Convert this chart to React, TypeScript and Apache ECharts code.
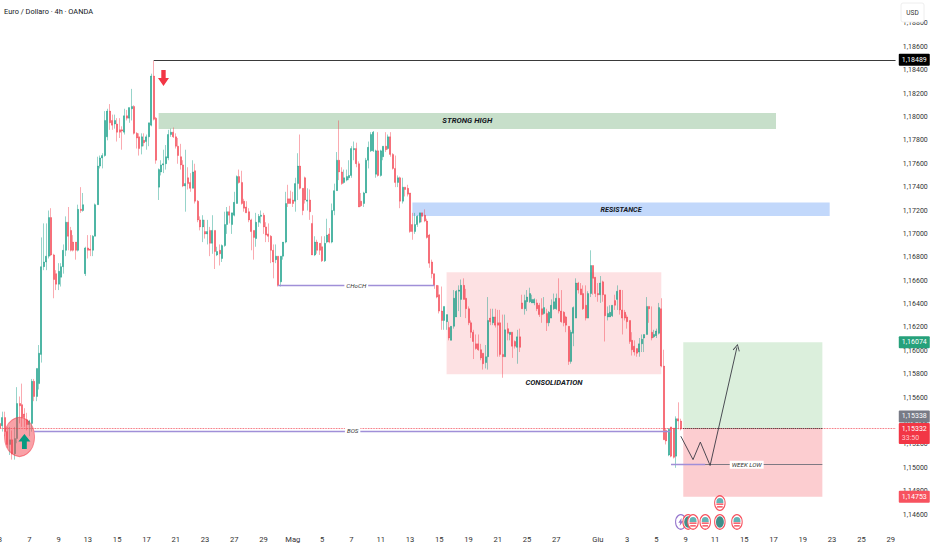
import React, { useEffect, useRef } from "react";
import * as echarts from "echarts";

// Candles: [open, close, low, high] in pips (price x 10000)
const aprilCandles = [
[11538,11534,11532,11540],[11536,11543,11531,11548],[11543,11531,11527,11548],[11531,11520,11517,11535],[11520,11524,11511,11535],[11524,11512,11507,11532],[11512,11525,11507,11535],[11525,11555,11521,11569],[11555,11553,11538,11561],[11554,11543,11535,11572],
[11546,11543,11535,11551],[11541,11537,11532,11547],[11537,11540,11527,11541],[11538,11574,11531,11576],[11574,11561,11557,11576],[11561,11585,11557,11585],[11572,11598,11567,11605],[11597,11672,11590,11697],[11672,11676,11669,11709],[11676,11681,11669,11709],
[11681,11714,11679,11720],[11714,11682,11681,11722],[11682,11661,11645,11683],[11666,11657,11652,11669],[11657,11668,11652,11675],[11663,11672,11655,11675],[11672,11686,11666,11691],[11686,11710,11681,11715],[11710,11698,11686,11723],[11703,11686,11685,11706],
[11693,11686,11685,11699],[11693,11686,11678,11693],[11686,11721,11685,11725],[11721,11720,11718,11740],[11720,11725,11719,11735],[11666,11688,11664,11689],[11688,11686,11679,11699],[11687,11686,11681,11699],[11686,11698,11681,11699],[11698,11725,11698,11726],
[11725,11758,11725,11766],[11758,11765,11756,11767],[11765,11767,11756,11769],[11767,11797,11766,11805],[11783,11805,11780,11807],[11805,11795,11789,11811],[11797,11793,11789,11802],[11794,11797,11790,11802],[11794,11787,11779,11799],[11789,11787,11782,11799],
[11789,11788,11772,11792],[11787,11801,11785,11807],[11801,11799,11797,11806],[11799,11808,11795,11808],[11807,11809,11797,11824],[11809,11786,11785,11810],[11786,11782,11773,11787],[11783,11773,11767,11786],[11775,11783,11768,11786],[11780,11778,11775,11786],
[11779,11783,11772,11785],[11783,11795,11775,11795],[11793,11835,11792,11837],[11835,11798,11797,11848],[11799,11763,11760,11800],[11740,11755,11729,11756],[11753,11759,11750,11763],[11759,11760,11752,11772],[11760,11766,11755,11776],[11765,11785,11763,11789],
[11785,11787,11783,11790],[11787,11783,11782,11791],[11783,11775,11773,11786],[11775,11767,11760,11782],[11766,11759,11755,11777],[11759,11741,11740,11763],[11741,11743,11719,11772],[11748,11743,11738,11757],[11744,11739,11736,11752],[11739,11753,11739,11763],
[11754,11728,11726,11760],[11728,11712,11710,11729],[11712,11706,11703,11715],[11706,11712,11693,11716],[11702,11700,11696,11712],[11700,11702,11691,11712],[11703,11692,11681,11706],[11692,11703,11683,11716],[11703,11685,11670,11703],[11682,11685,11681,11689],
[11686,11683,11673,11691],[11679,11690,11676,11691],[11690,11708,11689,11719],[11708,11719,11700,11723],[11719,11716,11709,11724],[11708,11718,11700,11718],[11716,11727,11715,11736],[11726,11749,11726,11750],[11749,11744,11743,11755],[11744,11726,11725,11754],
[11728,11722,11719,11730],[11723,11718,11718,11728],[11719,11712,11710,11722],[11712,11702,11686,11713],[11703,11697,11678,11703],[11696,11710,11689,11718],[11710,11715,11706,11717],[11715,11716,11709,11720],[11716,11706,11700,11718],[11706,11699,11693,11710],
[11700,11698,11693,11709],[11698,11686,11675,11699],[11686,11676,11662,11691],[11678,11681,11675,11691],[11681,11656,11655,11681],[11659,11681,11655,11681],[11681,11693,11678,11693],[11693,11726,11692,11736],[11730,11726,11723,11742],[11730,11726,11726,11737],
];
const mayCandles = [
[11729,11726,11723,11736],[11728,11743,11719,11748],[11743,11758,11729,11769],[11758,11739,11738,11785],[11739,11720,11716,11739],[11748,11729,11726,11749],[11728,11729,11720,11739],[11729,11719,11712,11738],[11709,11682,11682,11716],[11682,11693,11681,11698],
[11693,11686,11683,11695],[11692,11686,11682,11692],[11689,11677,11676,11698],[11677,11692,11676,11698],[11693,11699,11692,11713],[11700,11693,11692,11705],[11693,11720,11692,11726],[11720,11737,11716,11743],[11737,11763,11737,11770],[11763,11753,11746,11797],
[11753,11743,11742,11757],[11744,11748,11743,11755],[11746,11749,11745,11755],[11748,11750,11746,11763],[11750,11773,11748,11775],[11772,11773,11763,11779],[11773,11760,11757,11778],[11760,11723,11723,11762],[11728,11724,11723,11735],[11726,11735,11723,11736],
[11735,11763,11735,11765],[11763,11774,11756,11779],[11771,11785,11770,11787],[11771,11787,11770,11788],[11751,11771,11748,11772],[11771,11750,11749,11787],[11750,11771,11749,11772],[11766,11775,11763,11775],[11775,11772,11770,11787],[11773,11783,11772,11785],
[11783,11768,11766,11787],[11768,11756,11755,11769],[11756,11744,11740,11767],[11744,11748,11740,11750],[11748,11728,11722,11749],[11728,11740,11726,11748],[11740,11738,11732,11740],[11739,11734,11732,11742],[11735,11702,11701,11735],[11708,11702,11695,11718],
[11702,11708,11700,11718],[11708,11715,11706,11716],[11710,11718,11709,11718],[11718,11715,11710,11718],[11716,11711,11710,11721],[11711,11697,11696,11713],[11699,11675,11671,11700],[11676,11666,11662,11678],[11666,11656,11653,11666],[11656,11646,11645,11656],
[11648,11634,11632,11656],[11634,11626,11618,11655],[11626,11638,11618,11638],[11625,11631,11618,11631],[11620,11611,11609,11625],[11609,11621,11609,11621],[11621,11645,11619,11652],[11629,11651,11629,11652],[11651,11652,11634,11656],[11644,11656,11629,11661],
[11656,11644,11644,11662],[11645,11636,11628,11653],[11636,11624,11622,11638],[11624,11616,11611,11626],[11616,11608,11593,11618],[11606,11602,11601,11614],[11606,11601,11600,11614],[11601,11594,11592,11606],[11598,11589,11584,11598],[11590,11595,11585,11605],
[11595,11626,11584,11646],[11628,11625,11622,11636],[11624,11629,11622,11636],[11629,11622,11620,11636],[11624,11622,11595,11635],[11624,11597,11595,11635],[11597,11595,11577,11631],[11595,11618,11595,11631],[11619,11615,11609,11624],[11614,11616,11609,11616],
[11616,11604,11594,11616],[11608,11604,11602,11609],[11603,11612,11589,11618],[11612,11603,11599,11619],[11641,11636,11636,11648],[11636,11643,11631,11648],[11642,11646,11634,11652],[11642,11649,11641,11654],[11641,11644,11641,11648],[11641,11644,11639,11645],
[11641,11636,11634,11644],[11639,11631,11629,11641],[11636,11631,11624,11645],[11632,11637,11631,11646],[11632,11624,11617,11636],[11624,11633,11621,11634],[11628,11639,11628,11644],[11636,11642,11635,11649],[11636,11645,11635,11649],[11645,11634,11632,11662],
];
const juneCandles = [
[11634,11625,11624,11652],[11633,11624,11621,11634],[11629,11622,11616,11630],[11621,11591,11588,11621],[11591,11616,11589,11618],[11615,11637,11604,11638],[11628,11658,11628,11662],[11658,11652,11649,11659],[11653,11648,11648,11658],[11649,11636,11635,11656],
[11639,11628,11626,11656],[11628,11649,11628,11651],[11649,11673,11646,11686],[11673,11662,11648,11673],[11663,11649,11646,11663],[11649,11648,11642,11658],[11648,11658,11641,11664],[11659,11648,11642,11660],[11648,11630,11608,11648],[11629,11632,11626,11638],
[11629,11633,11629,11639],[11630,11639,11629,11639],[11643,11639,11635,11648],[11644,11651,11635,11656],[11652,11635,11631,11652],[11635,11628,11614,11652],[11633,11628,11626,11635],[11629,11625,11619,11631],[11626,11608,11606,11626],[11609,11601,11596,11616],
[11604,11599,11596,11609],[11602,11598,11595,11602],[11599,11606,11595,11611],[11606,11610,11599,11614],[11611,11614,11599,11614],[11614,11638,11614,11646],[11638,11636,11624,11638],[11616,11611,11609,11638],[11612,11614,11611,11618],[11613,11617,11611,11619],
[11615,11637,11614,11641],[11636,11587,11586,11645],[11587,11524,11524,11601],[11532,11523,11520,11534],[11511,11533,11510,11534],[11535,11510,11509,11535],[11534,11509,11508,11534],[11510,11542,11500,11544],[11542,11540,11533,11556],[11540,11533.2,11532,11542],
];
const candles = [...aprilCandles, ...mayCandles, ...juneCandles].map((r) => r.map((v) => v / 10000));

// Time axis: one slot per 4h bar, including the empty future
const slotCount = 368;
const tickSlots = [0, 12, 24, 36, 48, 60, 72, 84, 96, 108, 120, 132, 144, 156, 168, 180, 192, 204, 216, 228, 245, 257, 269, 281, 293, 305, 317, 329, 341, 353, 365];
const tickLabels = ["8", "7", "9", "13", "15", "17", "21", "23", "27", "29", "Mag", "5", "7", "11", "13", "15", "19", "21", "25", "27", "Giu", "3", "5", "9", "11", "15", "17", "19", "23", "25", "29"];

const priceMin = 1.144;
const priceMax = 1.19;
const priceStep = 0.002;

const highLevel = 1.18489;
const chochLevel = 1.16557;
const bosLevel = 1.15317;
const entryLevel = 1.15338;
const targetLevel = 1.16074;
const stopLevel = 1.14753;
const weekLowLevel = 1.15027;

// Projected path: slot, price
const pathSlots = [279, 284, 287, 291, 302];
const pathPrices = [1.1527, 1.1507, 1.1522, 1.1502, 1.1603];

const eventSlots = [279, 282, 284, 289, 295, 302];
const eventKinds = ["flash", "globe", "flag", "flag", "globe", "flag"];
const upperEventSlot = 295;

const FONT = "Roboto, sans-serif";
const priceText = (v: number) => v.toFixed(5).replace(".", ",");

const zone = (name: string, a: number, b: number, hi: number, lo: number, fill: string, label?: object) => [
  { name, xAxis: a, yAxis: hi, itemStyle: { color: fill }, label: label ?? { show: false } },
  { xAxis: b, yAxis: lo },
];
const zoneLabel = (position: string, fontSize: number, distance = 0) => ({
  show: true, position, distance, fontFamily: FONT, fontWeight: "bold", fontStyle: "italic", fontSize, color: "#131722",
});
const seg = (a: number, pa: number, b: number, pb: number, color: string, width = 1.2, type = "solid", label?: string, endSymbol = "none") => [
  {
    xAxis: a, yAxis: pa, symbol: "none",
    lineStyle: { color, width, type },
    label: label
      ? { show: true, position: "insideMiddle", distance: 0, formatter: label, backgroundColor: "#fff", padding: [1, 2], fontFamily: FONT, fontStyle: "italic", fontWeight: "normal", fontSize: 6.2, color: "#333" }
      : { show: false },
  },
  { xAxis: b, yAxis: pb, symbol: endSymbol, symbolSize: 7 },
];
const hiddenLine = { color: "rgba(0,0,0,0)", width: 0, opacity: 1 };
const tag = (value: number, text: string, bg: string) => ({
  yAxis: value, symbol: "none",
  lineStyle: hiddenLine,
  label: {
    show: true, position: "end", distance: 2, formatter: text, backgroundColor: bg, borderRadius: 1,
    padding: [2, 3, 2, 3], fontFamily: FONT, fontSize: 7, color: "#fff", lineHeight: 8,
  },
});

const ARROW_DOWN = "path://M3 0H7V5H10L5 10L0 5H3Z";
const ARROW_UP = "path://M5 0L10 5H7V10H3V5H0Z";
const OPEN_HEAD = "path://M0 10L5 0L10 10L9 10.6L5 2.6L1 10.6Z";
const DOME = "path://M0 5A5 5 0 0 1 10 5V6H0Z";
const STRIPES = "path://M0 0H10V1.5H0ZM1 3H9V4.5H1Z";

const eventPrice = 1.14537;
const upperEventPrice = 1.14699;
const eventMarks = (slot: number, price: number, kind: string) => {
  const common = { coord: [slot, price], label: { show: false } };
  const ring = {
    ...common, symbol: "circle", symbolSize: [10.5, 14.5],
    itemStyle: { color: "#fff", borderColor: kind === "flash" ? "#9575cd" : "#f7525f", borderWidth: 1.2 },
  };
  if (kind === "globe") {
    return [ring, { ...common, symbol: "circle", symbolSize: [8, 11.5], itemStyle: { color: "#3f8f8a" } }];
  }
  if (kind === "flag") {
    return [
      ring,
      { ...common, symbol: DOME, symbolSize: [7, 5], symbolOffset: [0, -2.5], itemStyle: { color: "#62b3b5" } },
      { ...common, symbol: STRIPES, symbolSize: [7, 4], symbolOffset: [0, 2.5], itemStyle: { color: "#f23645" } },
    ];
  }
  return [ring, { ...common, symbol: "path://M6 0L1 6H4L3 10L9 4H6Z", symbolSize: [5, 8], itemStyle: { color: "#9575cd" } }];
};

export default function App() {
  const ref = useRef<HTMLDivElement>(null);
  useEffect(() => {
    document.body.style.margin = "0";
    const chart = echarts.init(ref.current!, undefined, { renderer: "svg" });
    const labelOf = new Map(tickSlots.map((s, i) => [s, tickLabels[i]]));
    chart.setOption({
      animation: false,
      backgroundColor: "#fff",
      title: {
        text: "Euro / Dollaro · 4h · OANDA", left: 4, top: 8, padding: 0,
        textStyle: { fontFamily: FONT, fontSize: 7.4, fontWeight: "normal", color: "#131722" },
      },
      grid: { left: -1.22, top: 0, width: 898, height: 538, outerBoundsMode: "none", containLabel: false },
      xAxis: {
        type: "category",
        data: Array.from({ length: slotCount }, (_, i) => String(i)),
        axisLine: { show: false },
        axisTick: { show: false },
        splitLine: { show: false },
        axisLabel: {
          interval: (i: number) => labelOf.has(i),
          formatter: (_: string, i: number) => labelOf.get(i) ?? "",
          hideOverlap: false,
          margin: 1, verticalAlign: "middle",
          fontFamily: FONT, fontSize: 7.6, color: "#333",
        },
      },
      yAxis: {
        type: "value", position: "right", min: priceMin, max: priceMax, interval: priceStep,
        axisLine: { show: false }, axisTick: { show: false }, splitLine: { show: false },
        axisLabel: {
          margin: 6, fontFamily: FONT, fontSize: 7, color: "#333",
          formatter: (v: number) => (v < 1.145 || v > 1.189 ? "" : priceText(v)),
        },
      },
      graphic: [{
        type: "group", z: 100,
        children: [
          { type: "rect", shape: { x: 901, y: 3, width: 23, height: 19, r: 2 }, style: { fill: "#fff", stroke: "#eeeeee", lineWidth: 1 }, z: 100 },
          { type: "text", x: 912.5, y: 12.5, style: { text: "USD", fontFamily: FONT, fontSize: 6.5, fill: "#333", align: "center", verticalAlign: "middle" }, z: 101 },
        ],
      }],
      series: [{
        type: "candlestick",
        data: candles,
        clip: false,
        barWidth: 1.5,
        itemStyle: {
          color: "#089981", color0: "#f23645",
          borderColor: "rgba(8,153,129,0.42)", borderColor0: "rgba(242,54,69,0.42)", borderWidth: 1,
        },
        markArea: {
          silent: true,
          data: [
            zone("STRONG HIGH", 65, 318, 1.18034, 1.17897, "rgba(70,150,80,0.3)", zoneLabel("inside", 7.8)),
            zone("RESISTANCE", 169, 340, 1.17269, 1.17153, "rgba(66,133,244,0.32)", zoneLabel("inside", 7.2)),
            zone("CONSOLIDATION", 183, 271, 1.16672, 1.158, "rgba(242,54,69,0.15)", zoneLabel("bottom", 7.6, 4)),
            zone("", 280, 337, targetLevel, entryLevel, "rgba(76,175,80,0.2)"),
            zone("", 280, 337, entryLevel, stopLevel, "rgba(242,54,69,0.25)"),
          ],
        },
        markLine: {
          silent: true,
          symbol: "none",
          precision: 5,
          animation: false,
          data: [
            seg(0, entryLevel, 367, entryLevel, "#f23645", 0.8, "dotted"),
            seg(63, highLevel, 367, highLevel, "#3a3a3a", 1),
            seg(114, chochLevel, 178, chochLevel, "#a08fd8", 1.3, "solid", "CHoCH"),
            seg(14, bosLevel, 275, bosLevel, "#a08fd8", 1.3, "solid", "BOS"),
            seg(275, weekLowLevel, 337, weekLowLevel, "#6f6f7a", 0.9, "solid", "WEEK LOW"),
            seg(275, weekLowLevel, 289, weekLowLevel, "#a08fd8", 1.3),
            seg(280, entryLevel, 337, entryLevel, "#333", 1, "dotted"),
            seg(pathSlots[0], pathPrices[0], pathSlots[1], pathPrices[1], "#3a3a44", 0.9),
            seg(pathSlots[1], pathPrices[1], pathSlots[2], pathPrices[2], "#3a3a44", 0.9),
            seg(pathSlots[2], pathPrices[2], pathSlots[3], pathPrices[3], "#3a3a44", 0.9),
            seg(pathSlots[3], pathPrices[3], pathSlots[4], pathPrices[4], "#3a3a44", 0.9, "solid", undefined, OPEN_HEAD),
            tag(highLevel, priceText(highLevel), "#000"),
            tag(targetLevel, priceText(targetLevel), "#26a17b"),
            tag(1.15439, "1,15338", "#787b86"),
            {
              yAxis: 1.15294, symbol: "none", lineStyle: hiddenLine,
              label: {
                show: true, position: "end", distance: 2, backgroundColor: "#f23645", borderRadius: 1, padding: [1, 3, 1, 3],
                formatter: "{a|1,15332}\n{b|33:50}",
                rich: {
                  a: { fontFamily: FONT, fontSize: 7, color: "#fff", lineHeight: 9.5 },
                  b: { fontFamily: FONT, fontSize: 7, color: "#ffc9cd", lineHeight: 9.5 },
                },
              },
            },
            tag(stopLevel, priceText(stopLevel), "#f7525f"),
          ],
        },
        markPoint: {
          silent: true,
          data: [
            { coord: [8, 1.15264], symbol: "circle", symbolSize: [30, 39], itemStyle: { color: "rgba(244,67,80,0.5)", borderColor: "rgba(242,54,69,0.55)", borderWidth: 1 }, label: { show: false } },
            { coord: [10, 1.15225], symbol: ARROW_UP, symbolSize: [12, 15], itemStyle: { color: "#089981" }, label: { show: false } },
            { coord: [67, 1.18333], symbol: ARROW_DOWN, symbolSize: [11, 16], itemStyle: { color: "#f23645" }, label: { show: false } },
            ...eventMarks(upperEventSlot, upperEventPrice, "flag"),
            ...eventSlots.flatMap((s, i) => eventMarks(s, eventPrice, eventKinds[i])),
          ],
        },
      }],
    });
    return () => chart.dispose();
  }, []);
  return <div ref={ref} style={{ position: "absolute", left: 0, top: 0, width: 932, height: 550 }} />;
}
